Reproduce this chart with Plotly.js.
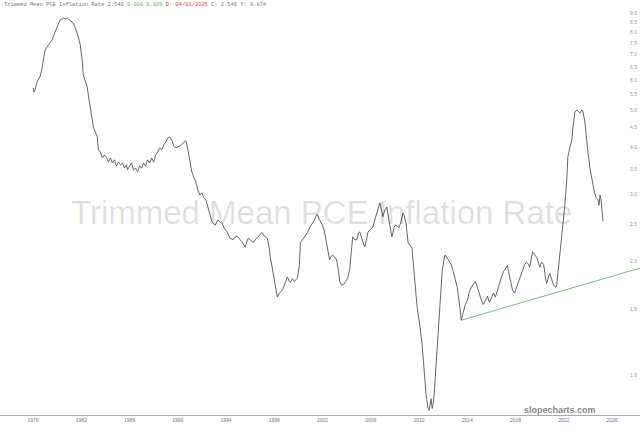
<!DOCTYPE html>
<html>
<head>
<meta charset="utf-8">
<script src="https://cdn.plot.ly/plotly-3.0.1.min.js"></script>
<style>html,body{margin:0;padding:0;background:#fff;}#chart{width:640px;height:429px;}</style>
</head>
<body>
<div id="chart"></div>
<script>
const seriesName = "Trimmed Mean PCE Inflation Rate";
const dates = [
"1978-01","1978-02","1978-03","1978-05","1978-07","1978-08","1978-10","1978-11",
"1979-01","1979-03","1979-06","1979-08","1979-09","1979-11",
"1980-01","1980-03","1980-04","1980-06","1980-07","1980-09","1980-11",
"1981-01","1981-03","1981-05","1981-07","1981-09","1981-10","1981-12",
"1982-01","1982-02","1982-03","1982-04","1982-05","1982-07","1982-08","1982-10","1982-11",
"1983-01","1983-03","1983-05","1983-06","1983-08","1983-10","1983-12",
"1984-02","1984-04","1984-06","1984-08","1984-10","1984-12",
"1985-02","1985-04","1985-06","1985-08","1985-10","1985-11",
"1986-01","1986-03","1986-05","1986-07","1986-09","1986-11",
"1987-01","1987-03","1987-05","1987-07","1987-09","1987-11",
"1988-01","1988-03","1988-05","1988-07","1988-09","1988-11",
"1989-01","1989-03","1989-05","1989-07","1989-09","1989-11",
"1990-01","1990-03","1990-05","1990-07","1990-09","1990-11",
"1991-01","1991-03","1991-05","1991-07","1991-09","1991-11",
"1992-01","1992-03","1992-05","1992-07","1992-09","1992-11",
"1993-02","1993-05","1993-07","1993-09","1993-11",
"1994-02","1994-05","1994-08","1994-11",
"1995-01","1995-03","1995-05","1995-08","1995-11",
"1996-01","1996-04","1996-07","1996-09","1996-11",
"1997-01","1997-03","1997-06","1997-08","1997-09","1997-11",
"1998-01","1998-03","1998-04","1998-06","1998-09","1998-11",
"1999-02","1999-04","1999-05","1999-07","1999-09","1999-12",
"2000-02","2000-03","2000-05","2000-08","2000-10","2000-12",
"2001-03","2001-05","2001-07","2001-08","2001-09","2001-11",
"2002-01","2002-03","2002-05","2002-07","2002-08","2002-10","2002-11",
"2003-01","2003-03","2003-05","2003-06","2003-08","2003-10","2003-12",
"2004-02","2004-04","2004-06","2004-07","2004-09","2004-11",
"2005-01","2005-02","2005-04","2005-07","2005-09","2005-10","2005-12",
"2006-03","2006-05","2006-08","2006-10","2006-12",
"2007-01","2007-03","2007-05","2007-07","2007-10","2007-12",
"2008-01","2008-03","2008-05","2008-07","2008-09","2008-10","2008-12",
"2009-02","2009-04","2009-06","2009-07","2009-09","2009-11",
"2010-02","2010-04","2010-06","2010-08","2010-10","2010-11","2010-12",
"2011-01","2011-02","2011-03","2011-04","2011-06","2011-08","2011-10","2011-12",
"2012-02","2012-03","2012-05","2012-07","2012-09","2012-11",
"2013-01","2013-03","2013-05","2013-07","2013-09","2013-11",
"2014-01","2014-03","2014-05","2014-07","2014-09","2014-11",
"2015-01","2015-03","2015-05","2015-07","2015-09","2015-11",
"2016-01","2016-03","2016-05","2016-07","2016-09","2016-11",
"2017-01","2017-03","2017-05","2017-06","2017-08","2017-10","2017-12",
"2018-02","2018-04","2018-06","2018-08","2018-10","2018-12",
"2019-02","2019-03","2019-05","2019-06","2019-08","2019-10","2019-12",
"2020-01","2020-03","2020-05","2020-07","2020-08","2020-10","2020-11",
"2021-01","2021-03","2021-05","2021-06","2021-08","2021-10","2021-12",
"2022-02","2022-04","2022-05","2022-07","2022-09","2022-10","2022-12",
"2023-02","2023-04","2023-05","2023-07","2023-08","2023-10","2023-11",
"2024-01","2024-03","2024-05","2024-07","2024-09","2024-11","2024-12",
"2025-01","2025-02","2025-03","2025-04"
];
const values = [
5.72,5.58,5.65,5.93,6.08,6.11,6.46,6.78,
7.20,7.33,7.51,7.65,7.79,8.08,
8.28,8.53,8.64,8.69,8.74,8.69,8.74,
8.64,8.58,8.48,8.23,7.98,7.79,7.42,
7.11,6.69,6.19,6.08,5.93,5.75,5.48,5.01,4.80,
4.52,4.38,4.25,3.93,3.88,3.74,3.81,
3.76,3.65,3.74,3.63,3.70,3.56,
3.65,3.59,3.63,3.52,3.59,3.48,
3.56,3.63,3.48,3.52,3.44,3.56,
3.52,3.63,3.56,3.70,3.63,3.74,
3.65,3.81,3.88,3.98,3.93,4.05,
4.12,4.22,4.25,4.17,4.02,3.98,
4.00,4.02,4.07,4.12,4.15,3.93,
3.70,3.44,3.33,3.24,3.08,2.99,
3.03,2.94,2.90,2.76,2.63,2.54,
2.49,2.57,2.54,2.52,2.45,
2.39,2.30,2.28,2.33,
2.32,2.28,2.25,2.18,2.30,
2.28,2.24,2.30,2.32,2.36,
2.38,2.33,2.30,2.17,2.05,1.92,
1.79,1.63,1.61,1.65,1.68,1.73,
1.82,1.77,1.76,1.80,1.77,1.81,
1.96,2.24,2.28,2.35,2.38,2.45,
2.52,2.57,2.65,2.66,2.60,2.55,
2.49,2.39,2.25,2.12,2.02,2.07,2.08,
2.05,2.02,1.88,1.77,1.73,1.74,1.77,
1.81,1.90,2.14,2.32,2.28,2.28,
2.38,2.39,2.30,2.18,2.30,2.38,2.42,
2.46,2.57,2.73,2.85,2.70,
2.62,2.73,2.78,2.57,2.32,2.45,
2.49,2.48,2.45,2.54,2.68,2.65,2.52,
2.24,2.20,2.17,2.02,1.73,1.52,
1.34,1.21,1.04,0.89,0.82,0.81,0.84,
0.87,0.82,0.84,0.89,1.07,1.32,1.63,1.88,
2.04,2.08,2.04,1.99,1.96,1.88,
1.79,1.71,1.56,1.40,1.47,1.54,
1.58,1.66,1.71,1.74,1.77,1.71,
1.63,1.58,1.54,1.58,1.62,1.56,
1.60,1.65,1.61,1.68,1.77,1.82,
1.88,1.92,1.95,1.88,1.79,1.68,1.65,
1.71,1.77,1.85,1.90,1.96,1.99,
1.96,1.93,2.08,2.12,2.08,2.05,1.98,
1.93,1.99,1.96,1.79,1.75,1.83,1.86,
1.79,1.73,1.71,1.74,1.96,2.21,2.42,
2.81,3.28,3.76,3.98,4.17,4.49,4.94,
5.01,4.94,4.91,5.01,4.97,4.65,4.30,
3.88,3.52,3.28,3.08,2.95,2.90,2.81,
2.99,2.90,2.70,2.546
];
const trendDates = ["2013-07","2028-05"];
const trendValues = [1.40, 1.92];
const yTicks = [1.0,1.5,2.0,2.5,3.0,3.5,4.0,4.5,5.0,5.5,6.0,6.5,7.0,7.5,8.0,8.5,9.0];
const yTickText = yTicks.map(v => v.toFixed(1));
const headerParts = [
  {text: "Trimmed Mean PCE Inflation Rate 2.540", color: "#777"},
  {text: "0.000 0.00%", color: "#5cb85c"},
  {text: "D: 04/01/2025", color: "#e03c3c"},
  {text: "C: 2.546 Y: 8.874", color: "#777"}
];

const traces = [
  {x: dates, y: values, type: "scatter", mode: "lines",
   line: {color: "#555", width: 0.9}, hoverinfo: "skip"},
  {x: trendDates, y: trendValues, type: "scatter", mode: "lines",
   line: {color: "#5aa85a", width: 0.8}, hoverinfo: "skip"}
];

const header = headerParts.map(p => '<span style="color:' + p.color + '">' + p.text + '</span>').join(' ');

const layout = {
  width: 640, height: 429,
  margin: {l: 0, r: 0, t: 0, b: 14, pad: 0},
  paper_bgcolor: "#fff", plot_bgcolor: "#fff",
  showlegend: false,
  font: {family: "Liberation Sans, Arial, sans-serif"},
  xaxis: {
    type: "date", range: ["1975-04-06", "2028-04-25"],
    tick0: "1978-01-01", dtick: "M48", tickformat: "%Y",
    showgrid: false, zeroline: false, showline: true,
    linecolor: "#aaa", linewidth: 1, ticks: "",
    tickfont: {size: 5, color: "#6b7896"}, fixedrange: true
  },
  yaxis: {
    type: "log", side: "right", range: [-0.1034, 0.98887],
    tickvals: yTicks, ticktext: yTickText,
    ticklabelposition: "inside", ticks: "",
    tickfont: {size: 5, color: "#999"},
    showgrid: false, zeroline: false, showline: false, fixedrange: true
  },
  annotations: [
    {text: seriesName, xref: "paper", yref: "paper", x: 0.502, y: 0.488,
     xanchor: "center", yanchor: "middle", showarrow: false,
     font: {size: 33, color: "rgba(0,0,0,0.13)", family: "Liberation Sans, Arial, sans-serif"}},
    {text: header, xref: "paper", yref: "paper", x: 0.003, y: 0.988,
     xanchor: "left", yanchor: "middle", showarrow: false,
     font: {size: 5.4, color: "#777", family: "Liberation Mono, Courier New, monospace"}},
    {text: "<b>slopecharts.com</b>", xref: "paper", yref: "paper", x: 0.934, y: 0.012,
     xanchor: "right", yanchor: "middle", showarrow: false,
     font: {size: 9, color: "#888", family: "Liberation Sans, Arial, sans-serif"}}
  ]
};

Plotly.newPlot("chart", traces, layout, {staticPlot: true, displayModeBar: false});
</script>
</body>
</html>
